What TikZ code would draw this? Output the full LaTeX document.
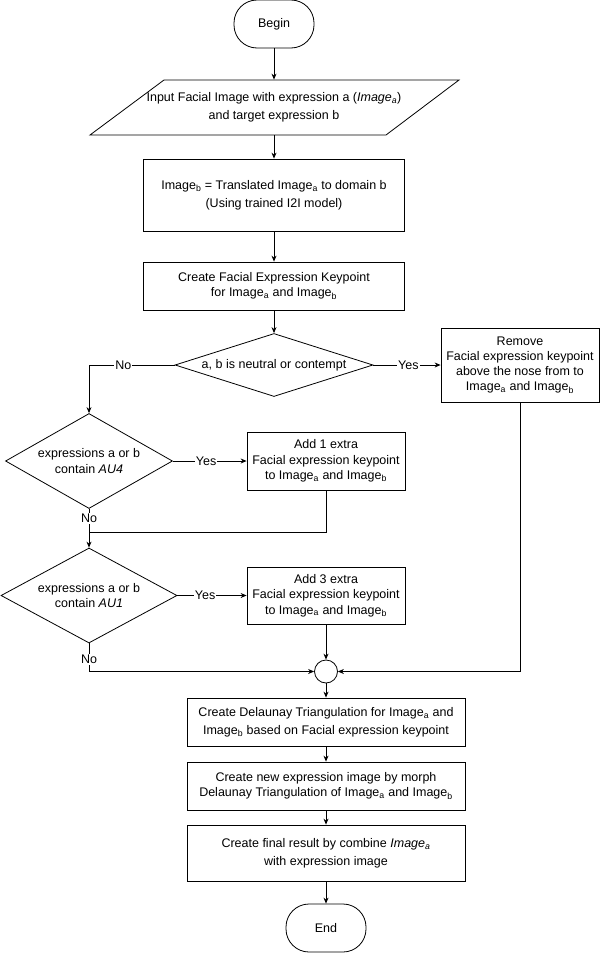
\documentclass[tikz,border=0pt]{standalone}
\usepackage{fontspec}
\setmainfont{Liberation Sans}
\usetikzlibrary{shapes.geometric,arrows.meta}
\tikzset{every node/.style={font=\fontsize{12.5}{15.3}\selectfont},
  proc/.style={draw,rectangle,align=center,inner sep=2pt},
  term/.style={draw,rectangle,rounded corners=23pt,minimum width=80pt,minimum height=48pt},
  decide/.style={draw,diamond,align=center,inner sep=0pt},
  lbl/.style={fill=white,inner sep=1pt},
  flow/.style={-{Stealth[length=6pt,width=5pt]}}}
\newcommand{\ima}{Image\textsubscript{a}}
\newcommand{\imb}{Image\textsubscript{b}}

\begin{document}
\begin{tikzpicture}[x=1pt,y=-1pt,line width=0.8pt]
  \useasboundingbox (0,0) rectangle (600,953);
  % main column
  \node[term] (begin) at (274,24) {Begin};
  \node[minimum width=300pt,minimum height=55pt,align=center] (input) at (274,107.5)
     {Input Facial Image with expression a (\textit{Image\textsubscript{a}})\\[2.3pt] and target expression b};
  \draw (164,80) -- (459,80) -- (386,135) -- (90,135) -- cycle;
  \node[proc,minimum width=261pt,minimum height=72pt] (translate) at (274,195)
     {\imb{} = Translated \ima{} to domain b\\[2.3pt] (Using trained I2I model)};
  \node[proc,minimum width=261pt,minimum height=48pt] (keypts) at (274,286)
     {Create Facial Expression Keypoint\\ for \ima{} and \imb};
  \node[decide,aspect=3.14,minimum width=198pt,minimum height=63pt] (neutral) at (274,365)
     {a, b is neutral or contempt};
  \node[proc,minimum width=158pt,minimum height=74pt] (remove) at (520,365)
     {Remove\\ Facial expression keypoint\\ above the nose from to\\ \ima{} and \imb};
  % extra keypoints
  \node[decide,aspect=1.76,minimum width=167pt,minimum height=95pt] (au4) at (89,461)
     {expressions a or b\\ contain \textit{AU4}};
  \node[proc,minimum width=158pt,minimum height=58pt] (addone) at (326,461)
     {Add 1 extra\\ Facial expression keypoint\\ to \ima{} and \imb};
  \coordinate (join) at (89,532);
  \node[decide,aspect=1.85,minimum width=176pt,minimum height=95pt] (au1) at (89,595.5)
     {expressions a or b\\ contain \textit{AU1}};
  \node[proc,minimum width=158pt,minimum height=57pt] (addthree) at (326,595.5)
     {Add 3 extra\\ Facial expression keypoint\\ to \ima{} and \imb};
  \node[draw,circle,minimum size=23pt,inner sep=0pt] (merge) at (326,671.5) {};
  % lower column
  \node[proc,minimum width=278pt,minimum height=48pt] (delaunay) at (326,722)
     {Create Delaunay Triangulation for \ima{} and\\[2.3pt] \imb{} based on Facial expression keypoint};
  \node[proc,minimum width=278pt,minimum height=48pt] (morph) at (326,786)
     {Create new expression image by morph\\ Delaunay Triangulation of \ima{} and \imb};
  \node[proc,minimum width=278pt,minimum height=56pt] (final) at (326,853)
     {Create final result by combine \textit{Image\textsubscript{a}}\\[2.3pt] with expression image};
  \node[term] (end) at (326,928) {End};

  \draw[flow] (begin) -- (input);
  \draw[flow] (input) -- (translate);
  \draw[flow] (translate) -- (keypts);
  \draw[flow] (keypts) -- (neutral);
  \draw[flow] (neutral.east) -- node[lbl,pos=0.52]{Yes} (remove.west);
  \draw[flow] (neutral.west) -| node[lbl,pos=0.3]{No} (au4.north);
  \draw[flow] (au4.east) -- node[lbl,pos=0.45]{Yes} (addone.west);
  \draw (addone.south) |- (join);
  \draw[flow] (au4.south) -- node[lbl,pos=0.25]{No} (au1.north);
  \draw[flow] (au1.east) -- node[lbl,pos=0.4]{Yes} (addthree.west);
  \draw[flow] (au1.south) |- node[lbl,pos=0.28]{No} (merge.west);
  \draw[flow] (addthree.south) -- (merge.north);
  \draw[flow] (remove.south) |- (merge.east);
  \draw[flow] (merge) -- (delaunay);
  \draw[flow] (delaunay) -- (morph);
  \draw[flow] (morph) -- (final);
  \draw[flow] (final) -- (end);
\end{tikzpicture}
\end{document}
